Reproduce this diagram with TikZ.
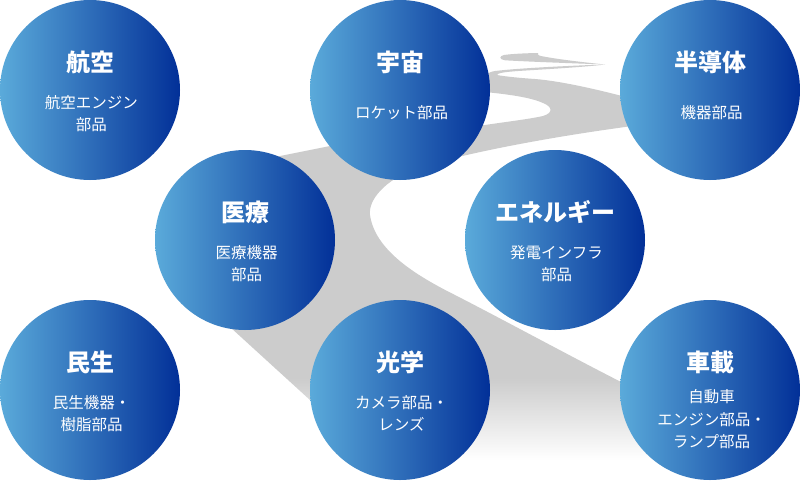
\documentclass[tikz,border=0pt]{standalone}
\usepackage{fontspec}
\newfontfamily\jp{Noto Sans CJK JP}
\definecolor{bubL}{RGB}{90,170,218}
\definecolor{bubR}{RGB}{2,48,152}
\definecolor{roadgray}{RGB}{204,204,204}
\begin{document}
\begin{tikzpicture}[x=1pt,y=-1pt,
  bubble/.style={circle, minimum size=180pt, inner sep=0pt, outer sep=0pt, draw=none, left color=bubL, right color=bubR},
  ttl/.style={font=\jp\bfseries\fontsize{24}{28}\selectfont, text=white, inner sep=0pt},
  sub/.style={font=\jp\fontsize{15.5}{22.5}\selectfont, text=white, align=center, inner sep=0pt}]
\useasboundingbox (0,0) rectangle (801,480);
\fill[white] (0,0) rectangle (801,480);
% road
\def\roadpath{(605,64.5) .. controls (575,65.5) and (520,68) .. (495,71) .. controls (480,73) and (478,90) .. (485,92) .. controls (505,94) and (530,97) .. (543,103) .. controls (553,107) and (553,113) .. (543,116) .. controls (530,119) and (505,122) .. (485,125) .. controls (430,132) and (370,139) .. (330,146) .. controls (310,150) and (290,154) .. (280,156) .. controls (230,166) and (190,285) .. (230,327) -- (310,400) .. controls (340,428) and (370,460) .. (395,485) -- (680,485) -- (660,400) -- (623,383) .. controls (570,356) and (500,318) .. (455,295) .. controls (415,275) and (375,250) .. (370,215) .. controls (368,200) and (385,180) .. (415,169) .. controls (450,157) and (530,140) .. (625,127) -- (650,123) .. controls (665,115) and (660,100) .. (640,99) -- (622,96) .. controls (595,89) and (560,81) .. (535,79) .. controls (520,78) and (505,76.5) .. (497,75) .. controls (497,73) and (505,72) .. (518,71) .. controls (550,69) and (585,67) .. (605,64.5) -- cycle}
\fill[roadgray] (538,53) .. controls (525,53.2) and (510,54) .. (504,55) .. controls (499,56) and (499,59.5) .. (505,60.3) .. controls (535,62) and (580,63.5) .. (605,64.5) .. controls (585,62.5) and (555,59) .. (541,56) .. controls (538,55.3) and (537,54) .. (538,53) -- cycle;
\begin{scope}
\clip \roadpath;
\fill[roadgray] (0,0) rectangle (801,378);
\shade[top color=roadgray, bottom color=white] (0,378) rectangle (801,460);
\fill[white] (0,459.5) rectangle (801,490);
\end{scope}
% circles
\node[bubble] (kouku) at (90,90) {};
\node[bubble] (uchu) at (400,90) {};
\node[bubble] (handotai) at (710,90) {};
\node[bubble] (iryo) at (245,240) {};
\node[bubble] (energy) at (555,240) {};
\node[bubble] (minsei) at (90,390) {};
\node[bubble] (kogaku) at (400,390) {};
\node[bubble] (shasai) at (710,390) {};
% titles
\node[ttl] (kouku-t) at (90,62) {航空};
\node[ttl] (uchu-t) at (400,62) {宇宙};
\node[ttl] (handotai-t) at (710,62) {半導体};
\node[ttl] (iryo-t) at (245,212) {医療};
\node[ttl] (energy-t) at (555,212) {エネルギー};
\node[ttl] (minsei-t) at (90,362) {民生};
\node[ttl] (kogaku-t) at (400,362) {光学};
\node[ttl] (shasai-t) at (710,362) {車載};
% subtitles
\node[sub] (kouku-s) at (91.5,113.5) {航空エンジン\\部品};
\node[sub] (uchu-s) at (401.5,112.5) {ロケット部品};
\node[sub] (handotai-s) at (711.5,112.5) {機器部品};
\node[sub] (iryo-s) at (246.5,263.5) {医療機器\\部品};
\node[sub] (energy-s) at (556.5,263.5) {発電インフラ\\部品};
\node[sub] (minsei-s) at (91.5,413.5) {民生機器・\\樹脂部品};
\node[sub] (kogaku-s) at (401.5,413.5) {カメラ部品・\\レンズ};
\node[sub] (shasai-s) at (711.5,419.5) {自動車\\エンジン部品・\\ランプ部品};
\end{tikzpicture}
\end{document}
